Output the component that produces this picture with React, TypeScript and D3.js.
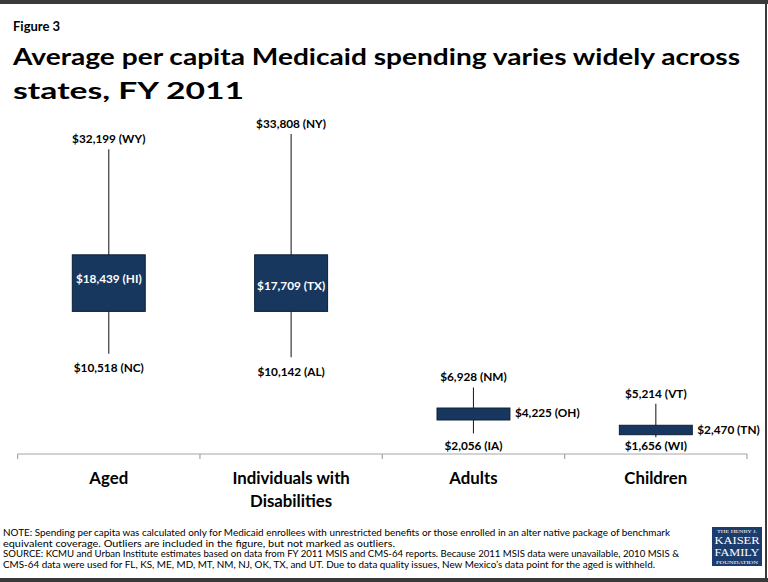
import React from "react";
import * as d3 from "d3";

const categories = ["Aged", "Individuals with\nDisabilities", "Adults", "Children"];
const maxValues = [32199, 33808, 6928, 5214];
const maxStates = ["WY", "NY", "NM", "VT"];
const minValues = [10518, 10142, 2056, 1656];
const minStates = ["NC", "AL", "IA", "WI"];
const medianValues = [18439, 17709, 4225, 2470];
const medianStates = ["HI", "TX", "OH", "TN"];
const boxHigh = [21000, 21000, 4750, 2920];
const boxLow = [15000, 15000, 3480, 1920];

const titleLines = [
  "Average per capita Medicaid spending varies widely across",
  "states, FY 2011",
];
const noteLines = [
  "NOTE: Spending per capita was calculated only for Medicaid enrollees with unrestricted benefits or those enrolled in an alter native package of benchmark",
  "equivalent coverage. Outliers are included in the figure, but not marked as outliers.",
  "SOURCE: KCMU and Urban Institute estimates based on data from FY 2011 MSIS and CMS-64 reports. Because 2011 MSIS data were unavailable, 2010 MSIS &",
  "CMS-64 data were used for FL, KS, ME, MD, MT, NM, NJ, OK, TX, and UT. Due to data quality issues, New Mexico\u2019s data point  for the aged is withheld.",
];
const noteWidths = [667, 392, 676, 652];

const FONT = "Lato, 'Open Sans', sans-serif";
const fmt = (v: number) => "$" + d3.format(",")(v);

export default function App() {
  const W = 768;
  const H = 582;
  const x = d3.scaleBand<string>().domain(categories).range([17.6, 747]);
  const y = d3.scaleLinear().domain([0, 36000]).range([452.8, 113.4]);
  const bw = x.bandwidth();
  const boxW = bw * 0.4;
  const axisY = 454;

  return (
    <svg
      width={W}
      height={H}
      viewBox={`0 0 ${W} ${H}`}
      style={{ position: "absolute", left: 0, top: 0, background: "#fff" }}
      fontFamily={FONT}
    >
      <rect x={0} y={0} width={W} height={H} fill="#fff" />
      {/* frame */}
      <rect x={0} y={0} width={W} height={4} fill="#3a3a3a" />
      <rect x={0} y={578} width={W} height={4} fill="#3a3a3a" />
      <rect x={765} y={0} width={2} height={H} fill="#3a3a3a" />

      <text x={13} y={31} fontSize={13} fontWeight={700} fill="#000">
        Figure 3
      </text>
      {titleLines.map((t, i) => (
        <text
          key={i}
          x={13}
          y={65 + i * 34.3}
          fontSize={23.5}
          fontWeight={700}
          fill="#000"
          textLength={i === 0 ? 727 : 231}
          lengthAdjust="spacingAndGlyphs"
        >
          {t}
        </text>
      ))}

      {/* axis */}
      <line x1={x.range()[0]} x2={x.range()[1]} y1={axisY} y2={axisY} stroke="#a6a6a6" strokeWidth={1.2} />
      {d3.range(categories.length + 1).map((i) => {
        const tx = x.range()[0] + i * x.step();
        return <line key={i} x1={tx} x2={tx} y1={axisY} y2={axisY + 5} stroke="#a6a6a6" strokeWidth={1.2} />;
      })}
      {categories.map((c) => {
        const cx = (x(c) as number) + bw / 2;
        return c.split("\n").map((ln, j) => (
          <text key={c + j} x={cx} y={484.3 + j * 22.4} fontSize={16.8} fontWeight={700} textAnchor="middle" fill="#000">
            {ln}
          </text>
        ));
      })}

      {/* boxes */}
      {categories.map((c, i) => {
        const cx = (x(c) as number) + bw / 2;
        const yTop = y(boxHigh[i]);
        const yBot = y(boxLow[i]);
        const inside = yBot - yTop > 20;
        const medY = y(medianValues[i]);
        return (
          <g key={c}>
            <line x1={cx} x2={cx} y1={y(maxValues[i])} y2={y(minValues[i])} stroke="#262626" strokeWidth={1.1} />
            <rect x={cx - boxW / 2} y={yTop} width={boxW} height={yBot - yTop} fill="#17375e" stroke="#0d1f36" strokeWidth={1} />
            <text x={cx} y={y(maxValues[i]) - 6} fontSize={11.8} fontWeight={700} textAnchor="middle" fill="#000">
              {`${fmt(maxValues[i])} (${maxStates[i]})`}
            </text>
            <text
              x={cx}
              y={Math.min(y(minValues[i]) + 18.5, 450)}
              fontSize={11.8}
              fontWeight={700}
              textAnchor="middle"
              fill="#000"
            >
              {`${fmt(minValues[i])} (${minStates[i]})`}
            </text>
            <text
              x={inside ? cx : cx + boxW / 2 + 5}
              y={medY}
              dy="0.35em"
              fontSize={11.8}
              fontWeight={700}
              textAnchor={inside ? "middle" : "start"}
              fill={inside ? "#fff" : "#000"}
            >
              {`${fmt(medianValues[i])} (${medianStates[i]})`}
            </text>
          </g>
        );
      })}

      {/* notes */}
      {noteLines.map((t, i) => (
        <text
          key={i}
          x={3}
          y={536 + i * 10.55}
          fontSize={9.4}
          fill="#000"
          textLength={noteWidths[i]}
          lengthAdjust="spacingAndGlyphs"
        >
          {t}
        </text>
      ))}

      {/* logo */}
      <g fontFamily="'Liberation Serif', 'DejaVu Serif', serif" fill="#fff" textAnchor="middle">
        <rect x={712} y={527} width={50} height={39} fill="#1d3c6e" />
        <text x={737} y={533} fontSize={5} textLength={40} lengthAdjust="spacingAndGlyphs">THE HENRY J.</text>
        <text x={737} y={543.5} fontSize={10.5} textLength={45} lengthAdjust="spacingAndGlyphs">KAISER</text>
        <text x={737} y={555.5} fontSize={10.5} textLength={45} lengthAdjust="spacingAndGlyphs">FAMILY</text>
        <text x={737} y={563.5} fontSize={4.6} textLength={42} lengthAdjust="spacingAndGlyphs">FOUNDATION</text>
      </g>
    </svg>
  );
}
